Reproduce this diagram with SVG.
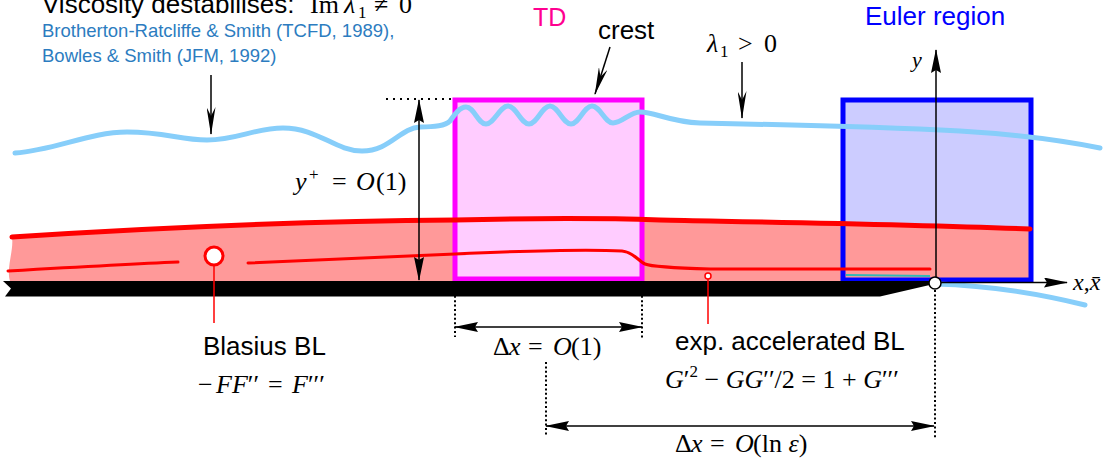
<svg xmlns="http://www.w3.org/2000/svg" width="1115" height="461" viewBox="0 0 1115 461">
<defs>
<style>
.sans{font-family:"Liberation Sans",Arial,sans-serif;}
.serif{font-family:"Liberation Serif","DejaVu Serif","Times New Roman",serif;}
.it{font-style:italic;}
.lbl{font-size:26px;fill:#000;}
.cite{font-size:18.5px;fill:#2c7cc0;}
.thin{stroke:#000;stroke-width:1.5;fill:none;}
.dotv{stroke:#000;stroke-width:2;fill:none;stroke-dasharray:2 2.4;}
.doth{stroke:#000;stroke-width:2;fill:none;stroke-dasharray:2 5;}
.redl{stroke:#ff0000;fill:none;stroke-linecap:round;}
.sky{stroke:#87cefa;stroke-width:5;fill:none;stroke-linecap:round;}
</style>
<marker id="barb" viewBox="0 0 28 9" refX="27" refY="4.5" markerWidth="28" markerHeight="9" markerUnits="userSpaceOnUse" orient="auto-start-reverse"><path d="M0,0 L28,4.5 L0,9 L9,4.5 Z" fill="#000"/></marker>
<marker id="head" viewBox="0 0 24 10" refX="23" refY="5" markerWidth="24" markerHeight="10" markerUnits="userSpaceOnUse" orient="auto-start-reverse"><path d="M0,0 L24,5 L0,10 L3,5 Z" fill="#000"/></marker>
</defs>
<rect width="1115" height="461" fill="#fff"/>

<g id="euler-fill"><rect x="843" y="100" width="188" height="180" fill="#ccccff"/></g>
<g id="bl-region">
<path d="M12,237 C150,228 320,221 455,220 C540,218 600,218 660,220 C760,222 900,224 1030,229 L1030,281 L10,281 C6,268 14,250 12,237 Z" fill="#ff9999"/>
</g>
<g id="euler-box"><rect x="843" y="100" width="188" height="180" fill="none" stroke="#0000ff" stroke-width="5"/></g>
<g id="td-box"><rect x="455" y="100" width="187" height="179" fill="#ffccff" stroke="#ff00ff" stroke-width="5"/></g>
<g id="bl-lines">
<path class="redl" stroke-width="5" d="M12,237 C150,228 320,221 455,220 C540,218 600,218 660,220 C760,222 900,224 1030,229"/>
<path class="redl" stroke-width="3" d="M8,271 C60,268 130,264 178,262"/>
<path class="redl" stroke-width="3" d="M248,263 C330,259 400,256 455,254 C520,251 590,249 622,251 C634,252 638,261 645,264 C652,267 675,268 710,269 L930,269"/>
<path d="M846,275 L930,276" stroke="#30b8b8" stroke-width="2" fill="none"/>
</g>
<g id="plate"><polygon points="3,281 933,281 934,284 880,296.5 5,296.5 11,288.5" fill="#000"/></g>
<g id="waves">
<path class="sky" d="M15,153 C55,150 90,132 127,132 C165,132 180,140 207,140 C237,140 255,128 283,128 C318,128 335,151 362,151 C390,151 400,128 420,127 C435,127 445,126 450,121 C455,114 460,107 466,107 C474,107 478,124 486,124 C494,124 500,106 508,106 C516,106 521,124 529,124 C537,124 542,106 550,106 C558,106 563,124 571,124 C579,124 584,106 592,106 C600,106 605,123 613,123 C622,123 630,112 640,112 C655,112 670,122 700,123 C800,125 900,128 960,131 C1010,134 1060,140 1100,148"/>
<path class="sky" d="M935,284 C975,285 1020,289 1085,305"/>
</g>
<g id="blasius-marker">
<line x1="214" y1="266" x2="214" y2="323" stroke="#ff0000" stroke-width="1.5"/>
<circle cx="214" cy="256" r="9" fill="#fff" stroke="#ff0000" stroke-width="3"/>
</g>
<g id="accel-marker">
<line x1="708" y1="279" x2="708" y2="324" stroke="#ff0000" stroke-width="1.5"/>
<circle cx="708" cy="276" r="3" fill="#fff" stroke="#ff0000" stroke-width="1.5"/>
</g>
<g id="connectors">
<line class="thin" x1="936" y1="283" x2="936" y2="50" marker-end="url(#head)"/>
<line class="thin" x1="935" y1="282.5" x2="1067" y2="282.5" marker-end="url(#head)"/>
<line class="thin" x1="211" y1="75" x2="211" y2="134" marker-end="url(#barb)"/>
<line class="thin" x1="742" y1="62" x2="742" y2="118" marker-end="url(#barb)"/>
<line class="thin" x1="610" y1="47" x2="595" y2="94" marker-end="url(#barb)"/>
<line class="thin" x1="419" y1="100" x2="419" y2="280" marker-start="url(#head)" marker-end="url(#head)"/>
<line class="doth" x1="386" y1="99" x2="453" y2="99"/>
<line class="thin" x1="455" y1="327" x2="642" y2="327" marker-start="url(#head)" marker-end="url(#head)"/>
<line class="dotv" x1="455" y1="287" x2="455" y2="337"/>
<line class="dotv" x1="642" y1="287" x2="642" y2="339"/>
<line class="thin" x1="546" y1="426" x2="934" y2="426" marker-start="url(#head)" marker-end="url(#head)"/>
<line class="dotv" x1="546" y1="362" x2="546" y2="435"/>
<line class="dotv" x1="935" y1="290" x2="935" y2="438"/>
</g>
<g id="origin"><circle cx="935" cy="283" r="6" fill="#fff" stroke="#000" stroke-width="1.5"/></g>

<g id="labels">
<text class="sans lbl" x="42" y="12.5">Viscosity destabilises:</text>
<text class="serif lbl"><tspan x="310" y="12.5">Im</tspan><tspan x="344" class="it">λ</tspan><tspan x="358" y="18" font-size="17">1</tspan><tspan x="374" y="12.5">≠</tspan><tspan x="399">0</tspan></text>
<text class="sans cite" x="42" y="37">Brotherton-Ratcliffe &amp; Smith (TCFD, 1989),</text>
<text class="sans cite" x="42" y="62">Bowles &amp; Smith (JFM, 1992)</text>
<text class="sans" x="533" y="26" font-size="25" fill="#ff0090">TD</text>
<text class="sans lbl" x="598" y="39">crest</text>
<text class="serif lbl"><tspan x="707" y="52" class="it">λ</tspan><tspan x="720" y="57" font-size="17">1</tspan><tspan x="738" y="52">&gt;</tspan><tspan x="764">0</tspan></text>
<text class="sans" x="865" y="25" font-size="26" fill="#0000ff">Euler region</text>
<text class="serif it" x="912" y="67" font-size="22">y</text>
<text class="serif" x="1073" y="290" font-size="24"><tspan class="it">x</tspan>,<tspan class="it">x̄</tspan></text>
<text class="serif lbl"><tspan x="295" y="190" class="it">y</tspan><tspan x="309" y="180" font-size="17">+</tspan><tspan x="332" y="190">=</tspan><tspan x="356" class="it">O</tspan><tspan x="376">(1)</tspan></text>
<text class="sans lbl" x="203" y="355">Blasius BL</text>
<text class="serif lbl"><tspan x="198" y="393">−</tspan><tspan x="216" class="it">FF</tspan><tspan>′′</tspan><tspan x="268">=</tspan><tspan x="292" class="it">F</tspan><tspan>′′′</tspan></text>
<text class="sans lbl" x="675" y="350">exp. accelerated BL</text>
<text class="serif lbl" x="665" y="388"><tspan class="it">G</tspan><tspan>′</tspan><tspan font-size="17" dy="-11">2</tspan><tspan dy="11"> − </tspan><tspan class="it">GG</tspan><tspan>′′/2 = 1 + </tspan><tspan class="it">G</tspan><tspan>′′′</tspan></text>
<text class="serif lbl"><tspan x="493" y="355">Δ</tspan><tspan x="509" class="it">x</tspan><tspan x="528">=</tspan><tspan x="553" class="it">O</tspan><tspan x="571">(1)</tspan></text>
<text class="serif lbl"><tspan x="675" y="452">Δ</tspan><tspan x="691" class="it">x</tspan><tspan x="710">=</tspan><tspan x="735" class="it">O</tspan><tspan x="753">(ln </tspan><tspan class="it">ε</tspan><tspan>)</tspan></text>
</g>
</svg>
